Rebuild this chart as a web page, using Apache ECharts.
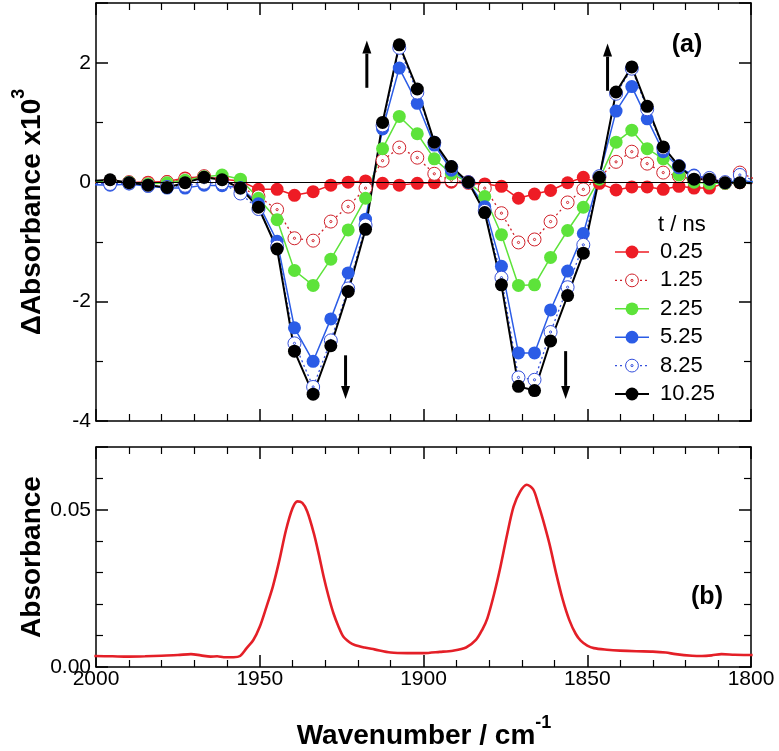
<!DOCTYPE html>
<html>
<head>
<meta charset="utf-8">
<script src="https://cdn.jsdelivr.net/npm/echarts@6/dist/echarts.min.js"></script>
<style>
    html, body { margin: 0; padding: 0; background: #fff; }
    #chart { width: 779px; height: 751px; }
</style>
</head>
<body>
<div id="chart"></div>
<script>
// time-resolved IR difference spectra (dA x 10^3), wavenumber in cm-1
const wavenumbers = [2001.5, 1995.7, 1989.9, 1984.1, 1978.3, 1972.8, 1967.0, 1961.5, 1955.9, 1950.4,
    1944.7, 1939.4, 1933.7, 1928.3, 1923.0, 1917.7, 1912.5, 1907.4, 1901.9, 1896.7,
    1891.5, 1886.3, 1881.3, 1876.2, 1871.0, 1866.1, 1861.2, 1856.0, 1851.2, 1846.3,
    1841.2, 1836.4, 1831.7, 1826.8, 1822.0, 1817.4, 1812.7, 1807.9, 1803.4, 1798.8];

const dA_025 = [0.00, 0.00, 0.00, 0.00, 0.01, 0.07, 0.09, 0.05, 0.02, -0.12,
    -0.12, -0.22, -0.16, -0.05, 0.00, 0.02, -0.02, -0.05, -0.02, -0.01,
    0.00, -0.02, -0.03, -0.07, -0.27, -0.20, -0.14, -0.01, 0.08, -0.02,
    -0.13, -0.08, -0.08, -0.12, -0.07, -0.10, -0.10, -0.02, -0.01, -0.01];
const dA_125 = [0.00, 0.00, 0.00, -0.02, 0.00, 0.05, 0.10, 0.04, -0.08, -0.24,
    -0.46, -0.94, -0.98, -0.66, -0.41, -0.10, 0.36, 0.58, 0.41, 0.14,
    0.03, 0.00, -0.10, -0.52, -1.01, -0.96, -0.66, -0.34, -0.12, 0.08,
    0.34, 0.51, 0.31, 0.16, 0.10, 0.05, 0.05, -0.01, 0.16, 0.05];
const dA_225 = [0.01, 0.01, 0.00, -0.03, -0.01, 0.03, 0.09, 0.12, 0.05, -0.27,
    -0.63, -1.48, -1.73, -1.29, -0.80, -0.27, 0.56, 1.10, 0.81, 0.39,
    0.14, 0.00, -0.24, -0.88, -1.73, -1.72, -1.26, -0.81, -0.42, 0.05,
    0.67, 0.87, 0.56, 0.39, 0.12, 0.00, -0.02, -0.02, 0.00, 0.00];
const dA_525 = [-0.04, -0.05, -0.03, -0.07, -0.10, -0.10, -0.05, -0.06, -0.09, -0.36,
    -0.99, -2.44, -3.00, -2.29, -1.52, -0.62, 0.89, 1.91, 1.32, 0.62,
    0.20, 0.00, -0.41, -1.41, -2.86, -2.86, -2.14, -1.49, -0.86, 0.10,
    1.19, 1.60, 1.06, 0.51, 0.24, 0.12, 0.05, -0.01, 0.03, 0.00];
const dA_825 = [-0.02, -0.03, -0.02, -0.06, -0.08, -0.06, -0.01, -0.02, -0.19, -0.45,
    -1.08, -2.70, -3.43, -2.65, -1.78, -0.72, 0.95, 2.25, 1.50, 0.66,
    0.25, 0.00, -0.48, -1.60, -3.27, -3.31, -2.51, -1.76, -1.05, 0.10,
    1.48, 1.90, 1.22, 0.57, 0.27, 0.10, 0.07, 0.00, 0.12, 0.02];
const dA_1025 = [0.02, 0.04, -0.01, -0.05, -0.09, -0.01, 0.08, 0.04, -0.10, -0.42,
    -1.12, -2.83, -3.55, -2.74, -1.83, -0.79, 1.00, 2.30, 1.56, 0.67,
    0.26, 0.00, -0.51, -1.72, -3.42, -3.49, -2.66, -1.90, -1.19, 0.08,
    1.51, 1.93, 1.27, 0.59, 0.27, 0.05, 0.05, -0.01, -0.01, -0.02];

const delays = ["0.25", "1.25", "2.25", "5.25", "8.25", "10.25"];

// ground state FTIR spectrum
const ftirWavenumbers = [2000.5, 1995, 1990, 1985, 1980, 1975, 1971, 1968, 1965, 1963,
    1961, 1958, 1956, 1954, 1952, 1950, 1948, 1946, 1944, 1942,
    1940, 1938.5, 1937, 1935.5, 1933.5, 1932, 1930.5, 1929, 1927.5, 1926,
    1924.5, 1922.5, 1921, 1918, 1915, 1910, 1905, 1900, 1895, 1891,
    1887, 1884, 1882, 1880.5, 1878.5, 1876.5, 1874.5, 1872.5, 1870.5, 1868.5,
    1866.5, 1865, 1863.5, 1861.5, 1859.5, 1857.5, 1855.5, 1853.5, 1852, 1850,
    1848, 1844, 1840, 1835, 1830, 1826, 1823, 1818, 1815, 1812,
    1809, 1805, 1800, 1799.5];
const ftirAbsorbance = [0.0035, 0.0034, 0.0033, 0.0034, 0.0036, 0.0038, 0.0041, 0.0037, 0.0033, 0.0034,
    0.0031, 0.0031, 0.0035, 0.0060, 0.0085, 0.0128, 0.0190, 0.0256, 0.0340, 0.0435,
    0.0505, 0.0527, 0.0522, 0.0495, 0.0426, 0.0360, 0.0288, 0.0225, 0.0171, 0.0130,
    0.0097, 0.0078, 0.0070, 0.0062, 0.0056, 0.0046, 0.0044, 0.0044, 0.0048, 0.0052,
    0.0062, 0.0086, 0.0120, 0.0155, 0.0230, 0.0319, 0.0420, 0.0510, 0.0558, 0.0580,
    0.0565, 0.0520, 0.0468, 0.0390, 0.0298, 0.0215, 0.0150, 0.0105, 0.0084, 0.0068,
    0.0060, 0.0055, 0.0052, 0.0050, 0.0049, 0.0046, 0.0041, 0.0036, 0.0035, 0.0037,
    0.0041, 0.0039, 0.0038, 0.0038];

// bleach / growth arrows: [wavenumber, from, to]
const arrowMarks = [[1917.3, 1.58, 2.37], [1923.8, -2.9, -3.63], [1843.8, 1.53, 2.32], [1856.6, -2.83, -3.63]];

const FONT = '"Liberation Sans", Arial, Helvetica, sans-serif';
const ring = "path://M10,0A10,10 0 1,1 10,20A10,10 0 1,1 10,0ZM10,8.3A1.7,1.7 0 1,1 10,11.7A1.7,1.7 0 1,1 10,8.3Z";

const looks = [
    { color: "#ee1c25", open: false, width: 1.5 },
    { color: "#d0222b", open: true, width: 1.3 },
    { color: "#5de33a", open: false, width: 1.5 },
    { color: "#2b5ce6", open: false, width: 1.5 },
    { color: "#3550dc", open: true, width: 1.3 },
    { color: "#000000", open: false, width: 2 },
];
const traces = [dA_025, dA_125, dA_225, dA_525, dA_825, dA_1025];

const chart = echarts.init(document.getElementById("chart"), null, { renderer: "canvas" });

const frame = { show: true, onZero: false, lineStyle: { color: "#000", width: 1.5 } };

function xAxisOf(grid, pos, labels) {
    return {
        type: "value", gridIndex: grid, position: pos,
        min: 1800, max: 2000, interval: 50, inverse: true,
        axisLine: frame,
        axisTick: { show: true, inside: true, length: 12, lineStyle: { color: "#000", width: 1.5 } },
        minorTick: { show: true, splitNumber: 5, length: 7, lineStyle: { color: "#000", width: 1.2 } },
        splitLine: { show: false },
        axisLabel: { show: labels, color: "#000", fontSize: 21, fontFamily: FONT, margin: 2, formatter: (v) => String(v) },
    };
}

function yAxisOf(grid, pos, labels, min, max, interval, minor, fmt) {
    return {
        type: "value", gridIndex: grid, position: pos,
        min: min, max: max, interval: interval,
        axisLine: frame,
        axisTick: { show: true, inside: true, length: 12, lineStyle: { color: "#000", width: 1.5 } },
        minorTick: { show: true, splitNumber: minor, length: 7, lineStyle: { color: "#000", width: 1.2 } },
        splitLine: { show: false },
        axisLabel: { show: labels, color: "#000", fontSize: 21, fontFamily: FONT, margin: 5, formatter: fmt },
    };
}

const fmtTop = (v) => (v > 2.5 ? "" : String(v));
const fmtBottom = (v) => (v > 0.06 ? "" : v.toFixed(2));

const series = traces.map((values, i) => {
    const lk = looks[i];
    const s = {
        type: "line",
        name: delays[i],
        xAxisIndex: 0,
        yAxisIndex: 0,
        data: wavenumbers.map((nu, k) => [nu, values[k]]),
        symbol: lk.open ? ring : "circle",
        symbolSize: 13,
        symbolKeepAspect: true,
        itemStyle: lk.open
            ? { color: "#fff", borderColor: lk.color, borderWidth: 1 }
            : { color: lk.color, borderWidth: 0 },
        lineStyle: { color: lk.color, width: lk.width, type: lk.open ? [2, 3] : "solid" },
        clip: true,
        silent: true,
    };
    if (i === 0) {
        s.markLine = {
            silent: true,
            symbol: ["none", "none"],
            label: { show: false },
            lineStyle: { color: "#000", width: 1.2, type: "solid" },
            data: [{ yAxis: 0 }],
        };
    }
    return s;
});

series.push({
    type: "line",
    name: "FTIR",
    xAxisIndex: 2,
    yAxisIndex: 2,
    data: ftirWavenumbers.map((nu, k) => [nu, ftirAbsorbance[k]]),
    showSymbol: false,
    smooth: 0.3,
    lineStyle: { color: "#e41f27", width: 2.6 },
    clip: true,
    silent: true,
});

const legendData = delays.map((d, i) => ({
    name: d,
    itemStyle: looks[i].open
        ? { color: "#fff", borderColor: looks[i].color, borderWidth: 1 }
        : { color: looks[i].color, borderWidth: 0 },
    lineStyle: { color: looks[i].color, width: looks[i].width, type: looks[i].open ? [2, 3] : "solid" },
}));

const titleFont = "bold 28px " + FONT;
const supStyle = { sup: { font: "bold 18px " + FONT, verticalAlign: "top", lineHeight: 18, fill: "#000" } };

chart.setOption({
    animation: false,
    backgroundColor: "#fff",
    grid: [
        { left: 96, top: 3, width: 655, height: 418 },
        { left: 96, top: 447, width: 655, height: 220 },
    ],
    xAxis: [
        xAxisOf(0, "bottom", false),
        xAxisOf(0, "top", false),
        xAxisOf(1, "bottom", true),
        xAxisOf(1, "top", false),
    ],
    yAxis: [
        yAxisOf(0, "left", true, -4, 3, 2, 2, fmtTop),
        yAxisOf(0, "right", false, -4, 3, 2, 2, fmtTop),
        yAxisOf(1, "left", true, 0, 0.07, 0.05, 5, fmtBottom),
        yAxisOf(1, "right", false, 0, 0.07, 0.05, 5, fmtBottom),
    ],
    legend: {
        orient: "vertical",
        left: 614,
        top: 241,
        padding: 0,
        itemWidth: 34,
        itemHeight: 16,
        itemGap: 6.4,
        selectedMode: false,
        textStyle: { fontSize: 22, color: "#000", fontFamily: FONT, padding: [0, 0, 0, 6] },
        data: legendData,
    },
    series: series,
});

const graphics = [
    { type: "text", left: 658, top: 214, style: { text: "t / ns", font: "22px " + FONT, fill: "#000" } },
    { type: "text", x: 687, y: 45, style: { text: "(a)", font: "bold 25px " + FONT, fill: "#000", align: "center", verticalAlign: "middle" } },
    { type: "text", x: 707, y: 597, style: { text: "(b)", font: "bold 25px " + FONT, fill: "#000", align: "center", verticalAlign: "middle" } },
    {
        type: "text", x: 32, y: 212, rotation: Math.PI / 2,
        style: { text: "ΔAbsorbance x10{sup|3}", font: titleFont, lineHeight: 44, fill: "#000", align: "center", verticalAlign: "middle", rich: supStyle },
    },
    {
        type: "text", x: 32, y: 557, rotation: Math.PI / 2,
        style: { text: "Absorbance", font: titleFont, fill: "#000", align: "center", verticalAlign: "middle" },
    },
    {
        type: "text", x: 424, y: 736,
        style: { text: "Wavenumber / cm{sup|-1}", font: titleFont, lineHeight: 44, fill: "#000", align: "center", verticalAlign: "middle", rich: supStyle },
    },
];

arrowMarks.forEach(([nu, from, to]) => {
    const p0 = chart.convertToPixel({ gridIndex: 0 }, [nu, from]);
    const p1 = chart.convertToPixel({ gridIndex: 0 }, [nu, to]);
    const dir = p1[1] > p0[1] ? 1 : -1;
    const baseY = p1[1] - dir * 13;
    graphics.push({ type: "line", shape: { x1: p0[0], y1: p0[1], x2: p1[0], y2: baseY }, style: { stroke: "#000", lineWidth: 3 } });
    graphics.push({
        type: "polygon",
        shape: { points: [[p1[0], p1[1]], [p1[0] - 4.5, baseY], [p1[0] + 4.5, baseY]] },
        style: { fill: "#000" },
    });
});

chart.setOption({ graphic: graphics });
</script>
</body>
</html>
